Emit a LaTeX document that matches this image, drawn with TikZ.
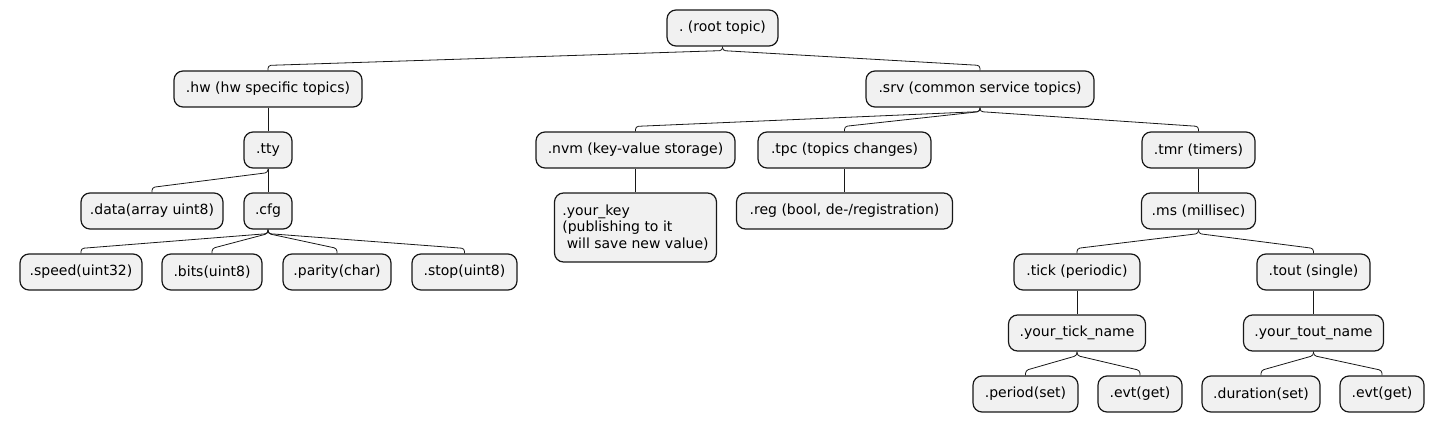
\documentclass[tikz,border=0pt]{standalone}
\usepackage{fontspec}
\setmainfont{DejaVu Sans}
\usetikzlibrary{calc}
\frenchspacing
\definecolor{boxfill}{HTML}{F1F1F1}
\definecolor{boxline}{HTML}{181818}
\tikzset{
  wbox/.style={draw=boxline, fill=boxfill, line width=1.2pt, rounded corners=9pt,
    minimum height=36pt, inner sep=0pt, font=\fontsize{14}{16.3}\selectfont\frenchspacing, text=black},
  conn/.style={draw=boxline, line width=0.8pt, rounded corners=3pt}
}
\newcommand{\wbsconn}[2]{\draw[conn] (#1.south) -- ++(0,4) -- ([yshift=5pt]#2.north) -- (#2.north);}
\begin{document}
\begin{tikzpicture}[x=1pt,y=-1pt]
\useasboundingbox (0,0) rectangle (1445,425);
% row 1
\node[wbox, minimum width=111pt] (root) at (722.5,28) {.\ (root topic)};
% row 2
\node[wbox, minimum width=188pt] (hw) at (268,89) {.hw (hw specific topics)};
\node[wbox, minimum width=228pt] (srv) at (980,89) {.srv (common service topics)};
% row 3
\node[wbox, minimum width=48pt] (tty) at (268,150) {.tty};
\node[wbox, minimum width=199pt] (nvm) at (635.5,150) {.nvm (key-value storage)};
\node[wbox, minimum width=173pt] (tpc) at (844.5,150) {.tpc (topics changes)};
\node[wbox, minimum width=113pt] (tmr) at (1198.5,150) {.tmr (timers)};
% row 4
\node[wbox, minimum width=142pt] (data) at (152,211) {.data(array uint8)};
\node[wbox, minimum width=48pt] (cfg) at (268,211) {.cfg};
\node[wbox, minimum width=162pt, minimum height=69pt, align=left] (yourkey) at (635.5,227.5)
  {.your\_key\\(publishing to it\\\ will save new value)};
\node[wbox, minimum width=216pt] (reg) at (844.5,211) {.reg (bool, de-/registration)};
\node[wbox, minimum width=114pt] (ms) at (1198.5,211) {.ms (millisec)};
% row 5
\node[wbox, minimum width=122pt] (speed) at (81,272) {.speed(uint32)};
\node[wbox, minimum width=100pt] (bits) at (212,272) {.bits(uint8)};
\node[wbox, minimum width=108pt] (parity) at (337,272) {.parity(char)};
\node[wbox, minimum width=105pt] (stop) at (464.5,272) {.stop(uint8)};
\node[wbox, minimum width=126pt] (tick) at (1077,272) {.tick (periodic)};
\node[wbox, minimum width=113pt] (tout) at (1313.5,272) {.tout (single)};
% row 6
\node[wbox, minimum width=137pt] (ytick) at (1077,333) {.your\_tick\_name};
\node[wbox, minimum width=140pt] (ytout) at (1313.5,333) {.your\_tout\_name};
% row 7
\node[wbox, minimum width=105pt] (period) at (1025.5,394) {.period(set)};
\node[wbox, minimum width=84pt] (evta) at (1140,394) {.evt(get)};
\node[wbox, minimum width=118pt] (duration) at (1261,394) {.duration(set)};
\node[wbox, minimum width=84pt] (evtb) at (1382,394) {.evt(get)};
% connectors
\wbsconn{root}{hw}
\wbsconn{root}{srv}
\draw[conn] (hw.south) -- (tty.north);
\wbsconn{srv}{nvm}
\wbsconn{srv}{tpc}
\wbsconn{srv}{tmr}
\wbsconn{tty}{data}
\draw[conn] (tty.south) -- (cfg.north);
\draw[conn] (nvm.south) -- (yourkey.north);
\draw[conn] (tpc.south) -- (reg.north);
\draw[conn] (tmr.south) -- (ms.north);
\wbsconn{cfg}{speed}
\wbsconn{cfg}{bits}
\wbsconn{cfg}{parity}
\wbsconn{cfg}{stop}
\wbsconn{ms}{tick}
\wbsconn{ms}{tout}
\draw[conn] (tick.south) -- (ytick.north);
\draw[conn] (tout.south) -- (ytout.north);
\wbsconn{ytick}{period}
\wbsconn{ytick}{evta}
\wbsconn{ytout}{duration}
\wbsconn{ytout}{evtb}
\end{tikzpicture}
\end{document}
